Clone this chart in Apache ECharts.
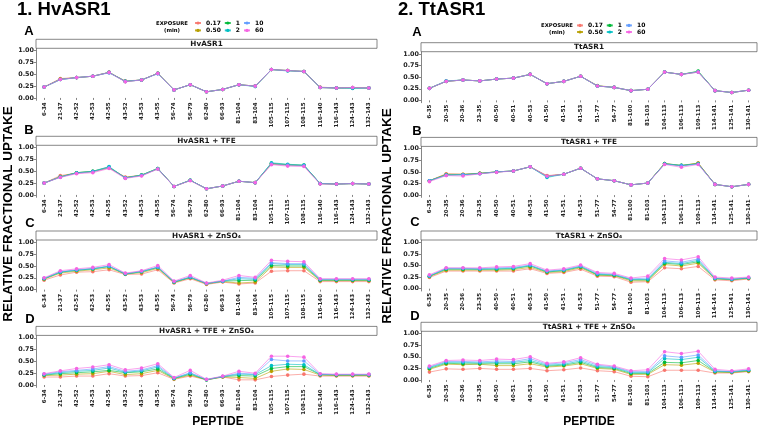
<!DOCTYPE html>
<html>
<head>
<meta charset="utf-8">
<script src="https://cdn.jsdelivr.net/npm/echarts@6/dist/echarts.min.js"></script>
<style>html,body{margin:0;padding:0;background:#fff}#c{width:760px;height:428px}</style>
</head>
<body>
<div id="c"></div>
<script>
// ---------- DATA ----------
const exposures = ['0.17', '0.50', '1', '2', '10', '60'];
const colors = ['#F8766D', '#B79F00', '#00BA38', '#00BFC4', '#619CFF', '#F564E3'];

const peptidesHv = ['6-34','21-37','42-52','42-53','42-55','43-52','43-53','43-55','56-74','56-79','62-80','66-93','81-104','83-104','105-115','107-115','108-115','116-140','116-143','124-143','132-143'];
const peptidesTt = ['6-35','20-35','20-36','23-35','40-50','40-51','40-53','41-50','41-51','41-53','51-77','54-77','81-100','81-103','104-113','106-113','109-113','114-141','125-141','130-141'];

const yTicks = [0, 0.25, 0.5, 0.75, 1];

// each panel: one row per exposure (0.17, 0.50, 1, 2, 10, 60)
const hvASR1 = [
  [0.23,0.41,0.43,0.46,0.54,0.36,0.38,0.52,0.17,0.28,0.13,0.18,0.28,0.25,0.60,0.58,0.56,0.23,0.21,0.22,0.21],
  [0.23,0.40,0.43,0.46,0.54,0.35,0.38,0.52,0.17,0.28,0.13,0.18,0.28,0.25,0.60,0.58,0.56,0.22,0.21,0.22,0.21],
  [0.23,0.39,0.43,0.46,0.54,0.35,0.38,0.52,0.17,0.28,0.13,0.18,0.28,0.25,0.60,0.58,0.56,0.22,0.21,0.21,0.21],
  [0.23,0.39,0.43,0.46,0.54,0.35,0.38,0.52,0.17,0.28,0.13,0.18,0.28,0.24,0.60,0.57,0.56,0.22,0.21,0.20,0.21],
  [0.23,0.39,0.43,0.46,0.53,0.35,0.38,0.51,0.17,0.28,0.13,0.18,0.28,0.25,0.60,0.58,0.56,0.22,0.21,0.22,0.21],
  [0.23,0.39,0.43,0.46,0.54,0.34,0.38,0.52,0.17,0.28,0.13,0.18,0.28,0.25,0.60,0.58,0.56,0.22,0.21,0.22,0.21]
];
const hvASR1_TFE = [
  [0.25,0.41,0.46,0.49,0.57,0.38,0.41,0.55,0.18,0.31,0.13,0.19,0.29,0.26,0.65,0.63,0.62,0.24,0.23,0.24,0.23],
  [0.25,0.39,0.47,0.50,0.58,0.37,0.42,0.56,0.18,0.31,0.13,0.19,0.29,0.26,0.66,0.64,0.62,0.24,0.23,0.24,0.23],
  [0.25,0.38,0.47,0.50,0.59,0.36,0.42,0.56,0.18,0.31,0.13,0.19,0.29,0.26,0.67,0.64,0.63,0.24,0.23,0.24,0.23],
  [0.25,0.38,0.47,0.50,0.60,0.36,0.42,0.56,0.18,0.31,0.13,0.19,0.29,0.26,0.68,0.65,0.63,0.24,0.23,0.24,0.23],
  [0.25,0.38,0.46,0.49,0.58,0.36,0.41,0.55,0.18,0.31,0.13,0.19,0.29,0.26,0.66,0.63,0.62,0.24,0.23,0.24,0.23],
  [0.25,0.37,0.45,0.47,0.56,0.35,0.40,0.55,0.18,0.30,0.13,0.19,0.29,0.26,0.64,0.61,0.60,0.23,0.23,0.24,0.23]
];
const hvASR1_Zn = [
  [0.20,0.31,0.37,0.38,0.42,0.32,0.33,0.42,0.14,0.23,0.11,0.16,0.12,0.14,0.39,0.40,0.40,0.17,0.17,0.17,0.17],
  [0.22,0.35,0.39,0.42,0.46,0.33,0.36,0.45,0.15,0.25,0.12,0.17,0.14,0.16,0.48,0.47,0.47,0.19,0.19,0.19,0.19],
  [0.23,0.37,0.41,0.44,0.49,0.33,0.38,0.47,0.16,0.26,0.13,0.18,0.19,0.20,0.51,0.50,0.50,0.20,0.20,0.20,0.20],
  [0.23,0.37,0.41,0.44,0.49,0.33,0.38,0.47,0.16,0.26,0.13,0.18,0.23,0.22,0.55,0.53,0.53,0.21,0.21,0.21,0.21],
  [0.24,0.38,0.42,0.45,0.50,0.34,0.39,0.48,0.17,0.27,0.13,0.18,0.26,0.24,0.57,0.55,0.55,0.22,0.22,0.22,0.22],
  [0.25,0.40,0.44,0.47,0.53,0.35,0.40,0.51,0.18,0.30,0.14,0.20,0.30,0.26,0.62,0.60,0.59,0.23,0.23,0.23,0.23]
];
const hvASR1_TFE_Zn = [
  [0.17,0.17,0.19,0.19,0.24,0.19,0.20,0.26,0.12,0.19,0.11,0.17,0.11,0.11,0.18,0.21,0.23,0.19,0.19,0.19,0.19],
  [0.20,0.21,0.23,0.24,0.29,0.22,0.24,0.31,0.13,0.21,0.11,0.17,0.16,0.14,0.29,0.34,0.33,0.21,0.20,0.20,0.20],
  [0.21,0.24,0.26,0.28,0.31,0.26,0.28,0.34,0.14,0.23,0.11,0.18,0.20,0.19,0.35,0.39,0.39,0.22,0.21,0.21,0.21],
  [0.22,0.26,0.29,0.31,0.36,0.27,0.30,0.38,0.14,0.25,0.11,0.18,0.23,0.22,0.41,0.44,0.43,0.22,0.22,0.22,0.22],
  [0.23,0.28,0.31,0.34,0.39,0.29,0.32,0.41,0.15,0.26,0.12,0.18,0.25,0.23,0.54,0.51,0.51,0.23,0.22,0.22,0.22],
  [0.24,0.30,0.35,0.38,0.43,0.32,0.36,0.45,0.16,0.31,0.12,0.19,0.29,0.25,0.61,0.61,0.59,0.24,0.23,0.23,0.23]
];
const ttASR1 = [
  [0.26,0.41,0.44,0.42,0.46,0.48,0.56,0.36,0.41,0.52,0.31,0.28,0.21,0.24,0.61,0.56,0.61,0.21,0.17,0.22],
  [0.26,0.41,0.44,0.42,0.46,0.48,0.56,0.36,0.41,0.52,0.32,0.28,0.21,0.24,0.61,0.56,0.62,0.21,0.17,0.22],
  [0.26,0.41,0.44,0.42,0.46,0.48,0.56,0.36,0.41,0.52,0.31,0.28,0.21,0.24,0.61,0.56,0.63,0.21,0.17,0.22],
  [0.26,0.42,0.44,0.42,0.46,0.48,0.56,0.36,0.41,0.52,0.31,0.28,0.21,0.24,0.61,0.56,0.62,0.21,0.17,0.22],
  [0.26,0.41,0.44,0.42,0.46,0.48,0.56,0.36,0.41,0.52,0.31,0.28,0.21,0.24,0.61,0.56,0.61,0.21,0.17,0.22],
  [0.26,0.41,0.44,0.42,0.46,0.48,0.56,0.36,0.41,0.52,0.31,0.28,0.21,0.24,0.61,0.56,0.61,0.21,0.17,0.22]
];
const ttASR1_TFE = [
  [0.31,0.46,0.45,0.47,0.50,0.52,0.61,0.42,0.45,0.58,0.35,0.31,0.22,0.26,0.68,0.63,0.69,0.23,0.18,0.23],
  [0.31,0.45,0.45,0.47,0.50,0.52,0.61,0.41,0.45,0.58,0.35,0.31,0.22,0.26,0.68,0.64,0.69,0.23,0.18,0.23],
  [0.31,0.44,0.44,0.47,0.50,0.52,0.61,0.40,0.45,0.58,0.35,0.31,0.22,0.26,0.68,0.64,0.68,0.23,0.18,0.23],
  [0.31,0.43,0.44,0.46,0.50,0.52,0.61,0.38,0.45,0.58,0.35,0.31,0.22,0.26,0.67,0.64,0.67,0.23,0.18,0.23],
  [0.31,0.43,0.44,0.46,0.50,0.52,0.61,0.40,0.45,0.58,0.35,0.31,0.22,0.26,0.67,0.63,0.67,0.23,0.18,0.23],
  [0.29,0.42,0.41,0.46,0.49,0.52,0.61,0.41,0.45,0.58,0.35,0.31,0.22,0.26,0.66,0.60,0.66,0.23,0.18,0.23]
];
const ttASR1_Zn = [
  [0.24,0.38,0.38,0.38,0.38,0.38,0.43,0.33,0.35,0.42,0.27,0.26,0.14,0.15,0.45,0.43,0.48,0.19,0.17,0.21],
  [0.26,0.40,0.40,0.40,0.40,0.41,0.46,0.35,0.37,0.45,0.29,0.28,0.17,0.17,0.52,0.49,0.55,0.21,0.19,0.22],
  [0.27,0.42,0.42,0.42,0.42,0.43,0.49,0.36,0.39,0.47,0.30,0.29,0.19,0.19,0.55,0.52,0.58,0.22,0.20,0.23],
  [0.27,0.43,0.43,0.42,0.43,0.44,0.50,0.37,0.40,0.48,0.31,0.30,0.20,0.20,0.57,0.54,0.61,0.22,0.20,0.23],
  [0.28,0.44,0.44,0.43,0.45,0.46,0.51,0.38,0.41,0.49,0.33,0.31,0.21,0.23,0.60,0.57,0.64,0.23,0.21,0.24],
  [0.30,0.45,0.45,0.45,0.47,0.48,0.54,0.40,0.43,0.51,0.35,0.33,0.23,0.27,0.65,0.62,0.69,0.25,0.23,0.25]
];
const ttASR1_TFE_Zn = [
  [0.17,0.24,0.23,0.25,0.23,0.23,0.25,0.20,0.22,0.26,0.20,0.18,0.08,0.07,0.21,0.21,0.21,0.15,0.15,0.18],
  [0.23,0.34,0.33,0.34,0.31,0.31,0.35,0.28,0.30,0.35,0.25,0.23,0.12,0.12,0.33,0.32,0.36,0.17,0.16,0.19],
  [0.25,0.36,0.35,0.35,0.35,0.35,0.39,0.30,0.32,0.38,0.27,0.25,0.14,0.14,0.38,0.37,0.42,0.18,0.17,0.20],
  [0.27,0.38,0.38,0.37,0.38,0.38,0.42,0.32,0.34,0.41,0.29,0.27,0.16,0.16,0.46,0.44,0.49,0.19,0.18,0.21],
  [0.28,0.40,0.40,0.39,0.41,0.40,0.46,0.34,0.37,0.44,0.32,0.28,0.18,0.18,0.52,0.49,0.54,0.20,0.18,0.22],
  [0.30,0.42,0.43,0.42,0.45,0.44,0.50,0.36,0.39,0.48,0.34,0.30,0.20,0.22,0.61,0.57,0.62,0.23,0.20,0.24]
];

const stripTitles = ['HvASR1','HvASR1 + TFE','HvASR1 + ZnSO₄','HvASR1 + TFE + ZnSO₄',
                     'TtASR1','TtASR1 + TFE','TtASR1 + ZnSO₄','TtASR1 + TFE + ZnSO₄'];
const panelLetters = ['A','B','C','D','A','B','C','D'];

// ---------- LAYOUT ----------
const panelData = [hvASR1, hvASR1_TFE, hvASR1_Zn, hvASR1_TFE_Zn, ttASR1, ttASR1_TFE, ttASR1_Zn, ttASR1_TFE_Zn];
const cols = [{left: 36, width: 341}, {left: 421, width: 336}];
const tops = [48.3, 145.3, 240, 335.4, 51.7, 146.4, 240, 331.3];
const plotH = [52, 52, 52, 52, 51, 51, 51, 51];
const letterPos = [[29,31],[29,130.5],[30,223],[30,319.5],[417,32.5],[417,131.5],[415,222],[415,316]];
const STRIP_H = 9;
const tickFont = 'DejaVu Sans';
const titleFont = 'Liberation Sans';

const grids = [], xAxes = [], yAxes = [], series = [], graphics = [];
panelData.forEach((pd, p) => {
  const c = cols[p < 4 ? 0 : 1];
  const cats = p < 4 ? peptidesHv : peptidesTt;
  grids.push({left: c.left, top: tops[p], width: c.width, height: plotH[p]});
  xAxes.push({
    type: 'category', gridIndex: p, data: cats, boundaryGap: true,
    axisLine: {show: false},
    axisTick: {show: true, alignWithLabel: true, length: 2, lineStyle: {color: '#333', width: 0.6}},
    axisLabel: {interval: 0, rotate: 90, fontSize: 5.5, fontWeight: 'bold', fontFamily: tickFont, color: '#222', margin: 2}
  });
  yAxes.push({
    type: 'value', gridIndex: p, min: -0.05, max: 1.05,
    splitLine: {show: false},
    axisLine: {show: true, lineStyle: {color: '#333', width: 0.6}},
    axisTick: {show: true, customValues: yTicks, length: 2, lineStyle: {color: '#333', width: 0.6}},
    axisLabel: {customValues: yTicks, formatter: v => v.toFixed(2), fontSize: 6.4, fontWeight: 'bold', fontFamily: tickFont, color: '#222', margin: 2}
  });
  pd.forEach((vals, k) => {
    series.push({
      type: 'line', name: exposures[k], xAxisIndex: p, yAxisIndex: p, data: vals,
      symbol: 'circle', symbolSize: 3.6, showSymbol: true,
      lineStyle: {width: 0.7, color: colors[k], opacity: 0.85},
      itemStyle: {color: colors[k]},
      z: 2 + k, animation: false, silent: true
    });
  });
  // strip
  graphics.push({type: 'rect', shape: {x: c.left, y: tops[p] - STRIP_H, width: c.width, height: STRIP_H},
    style: {fill: '#fff', stroke: '#555', lineWidth: 0.7}, z: 10});
  graphics.push({type: 'text', x: c.left + c.width / 2, y: tops[p] - STRIP_H / 2 + 0.3,
    style: {text: stripTitles[p], fontSize: 7.3, fontWeight: 'bold', fontFamily: tickFont, fill: '#1a1a1a', align: 'center', verticalAlign: 'middle'}, z: 11});
  // letter
  graphics.push({type: 'text', x: letterPos[p][0], y: letterPos[p][1],
    style: {text: panelLetters[p], fontSize: 13, fontWeight: 'bold', fontFamily: titleFont, fill: '#000', align: 'center', verticalAlign: 'middle'}, z: 11});
});

// column titles, axis titles, legend labels
[['1. HvASR1', 17], ['2. TtASR1', 398]].forEach(([t, x]) => graphics.push({type: 'text', x: x, y: 10,
  style: {text: t, fontSize: 18.5, fontWeight: 'bold', fontFamily: titleFont, fill: '#000', align: 'left', verticalAlign: 'middle'}}));
[[8, 214], [387, 216]].forEach(([x, y]) => graphics.push({type: 'text', x: x, y: y, rotation: Math.PI / 2,
  style: {text: 'RELATIVE FRACTIONAL UPTAKE', fontSize: 13.5, fontWeight: 'bold', fontFamily: titleFont, fill: '#000', align: 'center', verticalAlign: 'middle'}}));
[[218, 422], [589, 422]].forEach(([x, y]) => graphics.push({type: 'text', x: x, y: y,
  style: {text: 'PEPTIDE', fontSize: 12, fontWeight: 'bold', fontFamily: titleFont, fill: '#000', align: 'center', verticalAlign: 'middle'}}));
[[172, 23.3, 30.7], [557, 25.7, 32.3]].forEach(([x, y1, y2]) => {
  graphics.push({type: 'text', x: x, y: y1, style: {text: 'EXPOSURE', fontSize: 5.3, fontWeight: 'bold', fontFamily: tickFont, fill: '#000', align: 'center', verticalAlign: 'middle'}});
  graphics.push({type: 'text', x: x, y: y2, style: {text: '(min)', fontSize: 5.3, fontWeight: 'bold', fontFamily: tickFont, fill: '#000', align: 'center', verticalAlign: 'middle'}});
});

const legendBase = {orient: 'horizontal', itemWidth: 6, itemHeight: 4, itemGap: 3, padding: 0,
  selectedMode: false, textStyle: {fontSize: 6, fontWeight: 'bold', fontFamily: tickFont, color: '#000'}};
const legends = [
  Object.assign({}, legendBase, {data: ['0.17', '1', '10'], left: 194, top: 20}),
  Object.assign({}, legendBase, {data: ['0.50', '2', '60'], left: 194, top: 27.4}),
  Object.assign({}, legendBase, {data: ['0.17', '1', '10'], left: 576, top: 22.4}),
  Object.assign({}, legendBase, {data: ['0.50', '2', '60'], left: 576, top: 29})
];

const chart = echarts.init(document.getElementById('c'), null, {renderer: 'canvas'});
chart.setOption({
  backgroundColor: '#fff',
  animation: false,
  grid: grids, xAxis: xAxes, yAxis: yAxes, series: series,
  legend: legends, graphic: graphics
});
</script>
</body>
</html>
